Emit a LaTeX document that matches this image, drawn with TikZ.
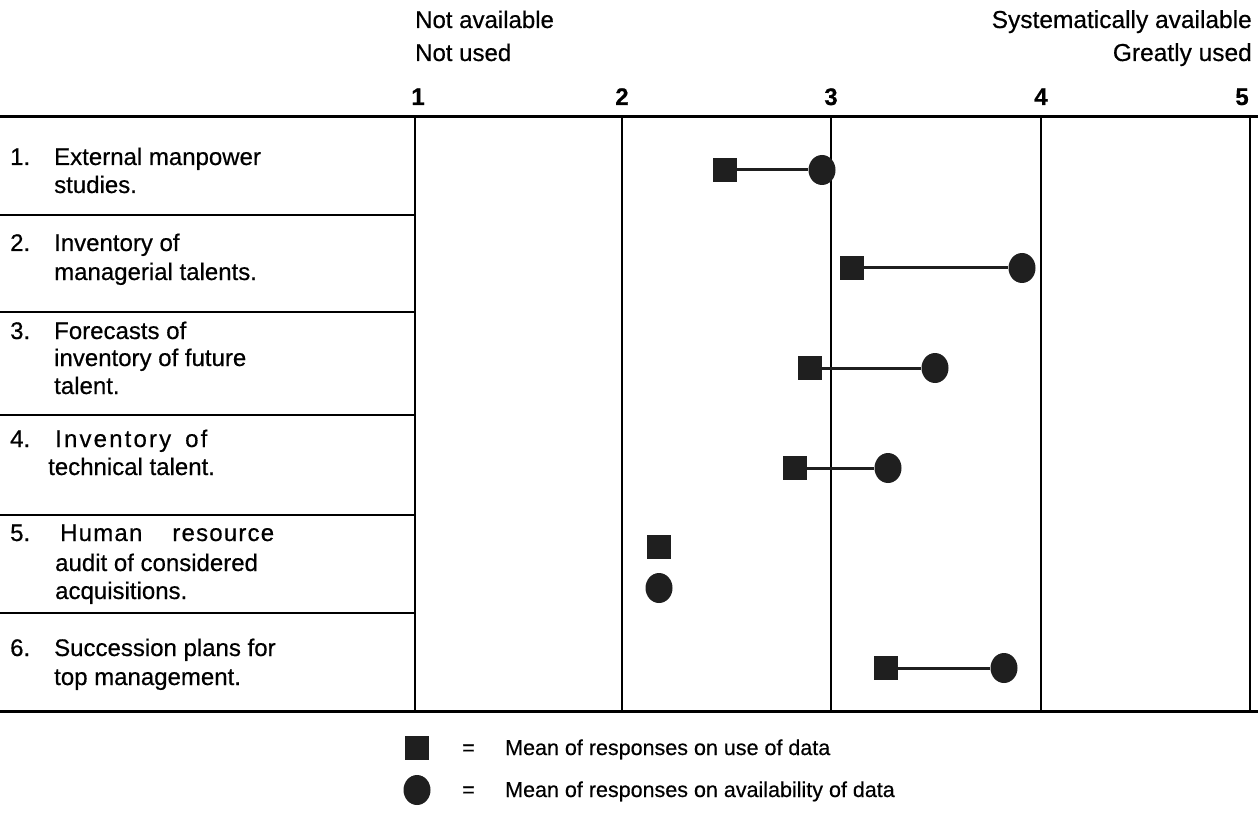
\documentclass[tikz,border=0pt]{standalone}
\usepackage{fontspec}
\setmainfont{Liberation Sans}[FakeBold=0.5]
\usetikzlibrary{shapes.geometric}
\begin{document}
\begin{tikzpicture}[x=1pt,y=-1pt,
  lbl/.style={inner sep=0pt, anchor=base west, font=\fontsize{24}{28}\selectfont},
  hdrl/.style={inner sep=0pt, anchor=base west, font=\fontsize{24}{28}\selectfont},
  hdrr/.style={inner sep=0pt, anchor=base east, font=\fontsize{24.5}{28}\selectfont},
  num/.style={inner sep=0pt, anchor=base, font=\fontsize{24}{28}\selectfont\bfseries},
  usesq/.style={rectangle, fill=black!88, minimum size=24pt, inner sep=0pt},
  avcirc/.style={ellipse, fill=black!88, minimum width=27pt, minimum height=30pt, inner sep=0pt},
  link/.style={line width=3pt, black!88},
  gridline/.style={line width=1.8pt},
  rule/.style={line width=3pt},
  leg/.style={inner sep=0pt, anchor=base west, font=\fontsize{21.5}{26}\selectfont},
]
\useasboundingbox (0,0) rectangle (1258,818);

% header
\node[hdrl] (na) at (415,28) {Not available};
\node[hdrl] (nu) at (415,61) {Not used};
\node[hdrr] (sa) at (1252,28) {Systematically available};
\node[hdrr] (gu) at (1252,61) {Greatly used};
\node[num] (n1) at (418,105) {1};
\node[num] (n2) at (622,105) {2};
\node[num] (n3) at (831,105) {3};
\node[num] (n4) at (1041,105) {4};
\node[num] (n5) at (1242,105) {5};

% grid
\draw[rule] (0,117) -- (1258,117);
\draw[rule] (0,711) -- (1258,711);
\foreach \x in {415,622,831,1041,1250} \draw[gridline] (\x,117) -- (\x,711);
\foreach \y in {215,312,415,515,613} \draw[gridline] (0,\y) -- (415,\y);

% row labels
\node[lbl] (r1n) at (10,165) {1.};
\node[lbl] (r1a) at (54,165) {External manpower};
\node[lbl] (r1b) at (54,193) {studies.};
\node[lbl] (r2n) at (10,251) {2.};
\node[lbl] (r2a) at (54,251) {Inventory of};
\node[lbl] (r2b) at (54,280) {managerial talents.};
\node[lbl] (r3n) at (10,339) {3.};
\node[lbl] (r3a) at (54,339) {Forecasts of};
\node[lbl] (r3b) at (54,366) {inventory of future};
\node[lbl] (r3c) at (54,394) {talent.};
\node[lbl] (r4n) at (10,447) {4.};
\node[lbl] (r4a) at (55,447) {\addfontfeature{LetterSpace=9}Inventory\hspace{14pt}of};
\node[lbl] (r4b) at (48,475) {technical talent.};
\node[lbl] (r5n) at (10,541) {5.};
\node[lbl] (r5a) at (60,541) {\addfontfeature{LetterSpace=5}Human\hspace{30pt}resource};
\node[lbl] (r5b) at (55,571) {audit of considered};
\node[lbl] (r5c) at (55,599) {acquisitions.};
\node[lbl] (r6n) at (10,656) {6.};
\node[lbl] (r6a) at (54,656) {Succession plans for};
\node[lbl] (r6b) at (54,685) {top management.};

% data markers
\node[usesq] (sq1) at (725,170) {};
\node[avcirc] (ci1) at (822,170) {};
\draw[link] (sq1) -- (ci1);
\node[usesq] (sq2) at (852,268) {};
\node[avcirc] (ci2) at (1022,268) {};
\draw[link] (sq2) -- (ci2);
\node[usesq] (sq3) at (810,368) {};
\node[avcirc] (ci3) at (935,368) {};
\draw[link] (sq3) -- (ci3);
\node[usesq] (sq4) at (795,468) {};
\node[avcirc] (ci4) at (888,468) {};
\draw[link] (sq4) -- (ci4);
\node[usesq] (sq5) at (659,547) {};
\node[avcirc] (ci5) at (659,588) {};
\node[usesq] (sq6) at (886,668) {};
\node[avcirc] (ci6) at (1004,668) {};
\draw[link] (sq6) -- (ci6);

% legend
\node[usesq] (lsq) at (417,748) {};
\node[leg] (leq1) at (462,755) {=};
\node[leg] (lt1) at (505,755) {Mean of responses on use of data};
\node[avcirc] (lci) at (417,790) {};
\node[leg] (leq2) at (462,797) {=};
\node[leg] (lt2) at (505,797) {Mean of responses on availability of data};
\end{tikzpicture}
\end{document}
